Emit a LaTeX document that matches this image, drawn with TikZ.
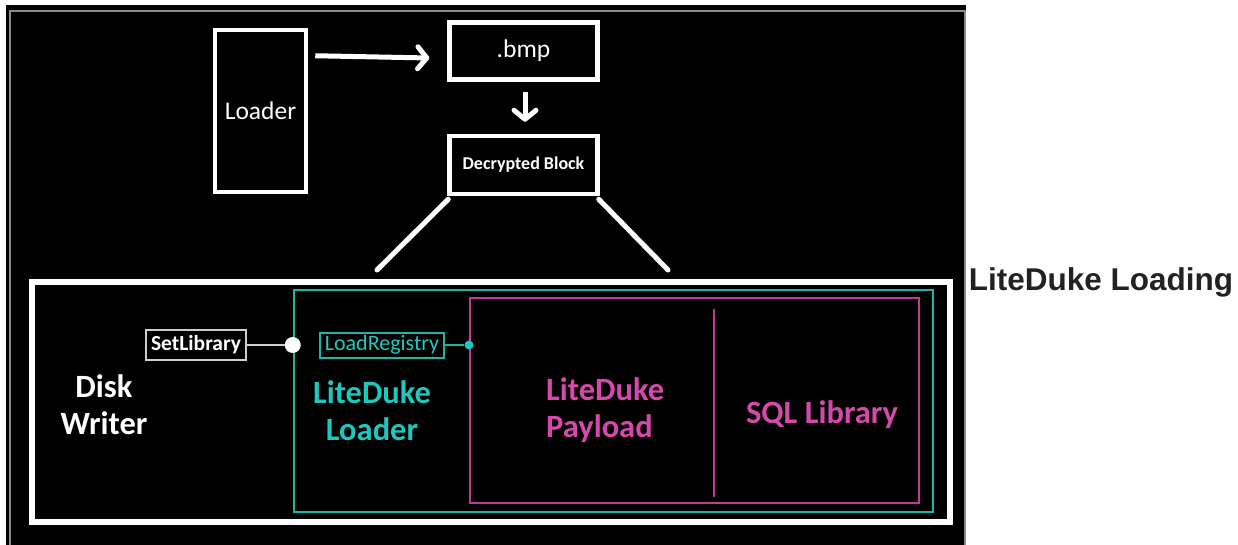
\documentclass[tikz,border=0pt]{standalone}
\usepackage{fontspec}
\setmainfont{Carlito}
\newfontfamily\headfont{Liberation Sans}
\usetikzlibrary{positioning,calc}
\usetikzlibrary{arrows.meta}
\definecolor{ldteal}{RGB}{24,182,172}
\definecolor{ldtealtext}{RGB}{30,200,190}
\definecolor{ldpink}{RGB}{196,58,150}
\definecolor{ldpinktext}{RGB}{214,72,172}
\definecolor{ldgray}{RGB}{140,140,140}
\definecolor{ldlight}{RGB}{205,205,205}

\begin{document}
\begin{tikzpicture}[x=1pt, y=-1pt,
  wbox/.style={draw=white, line width=4.5, inner sep=0, text=white, font=\fontsize{25.5}{30}\selectfont},
  bigtext/.style={inner sep=0, font=\bfseries\fontsize{32.5}{37}\selectfont},
  warrow/.style={draw=white, line width=5, -{Straight Barb[length=9pt,width=22pt,line cap=round,line join=round]}},
  wline/.style={draw=white, line width=5, line cap=round}]
\useasboundingbox (0,0) rectangle (1238,545);
\fill [black] (6,5) rectangle (966,545);
\draw [ldgray, line width=2] (9.5,11) rectangle (964.5,548);
% top row
\node [wbox, minimum width=91, minimum height=162] (loader) at (260.5,111) {Loader};
\node [wbox, minimum width=148, minimum height=57] (bmp) at (523.5,51) {.bmp};
\node [wbox, minimum width=148, minimum height=58, font=\bfseries\fontsize{18}{22}\selectfont] (dec) at (523.5,165) {Decrypted Block};
\draw [warrow] ($(loader.north east)+(7,28)$) -- ($(bmp.west)+(-18,7)$);
\draw [warrow] ($(bmp.south)+(1.5,10)$) -- ($(dec.north)+(1.5,-12)$);
\coordinate (lfoot) at (377,270);
\coordinate (rfoot) at (668,270);
\draw [wline] ($(dec.south west)+(1,3)$) -- (lfoot);
\draw [wline] ($(dec.south east)+(-1,3)$) -- (rfoot);
% nested boxes
\node [draw=white, line width=5.5, minimum width=918, minimum height=240, inner sep=0] (writer) at (491,402) {};
\node [draw=ldteal, line width=2.5, minimum width=639, minimum height=222, inner sep=0] (ldloader) at (613.5,401) {};
\node [draw=ldpink, line width=2, minimum width=449, minimum height=205, inner sep=0] (ldpayload) at (694.5,400.5) {};
\draw [ldpink, line width=2] (714,309) -- (714,497);
\node [bigtext, text=white, align=center] (disk) at (104,405) {Disk\\Writer};
\node [bigtext, text=ldtealtext, align=center] (ldltext) at (372,411) {LiteDuke\\Loader};
\node [bigtext, text=ldpinktext, align=left, anchor=west] (ldptext) at (546,410) {LiteDuke\\Payload};
\node [bigtext, text=ldpinktext, anchor=base] (sql) at (822,423) {SQL Library};
% exports
\node [draw=ldlight, line width=2, minimum width=100, minimum height=30, inner sep=0, text=white, font=\bfseries\fontsize{21.5}{24}\selectfont] (setlib) at (196,345) {SetLibrary};
\node [circle, fill=white, minimum size=16, inner sep=0] (sdot) at (ldloader.west |- setlib.east) {};
\draw [ldlight, line width=2] (setlib.east) -- (sdot);
\node [draw=ldteal, line width=2, minimum width=124, minimum height=25, inner sep=0, text=ldtealtext, font=\fontsize{22}{24}\selectfont] (loadreg) at (382,345) {LoadRegistry};
\node [circle, fill=ldtealtext, minimum size=9, inner sep=0] (rdot) at (ldpayload.west |- loadreg.east) {};
\draw [ldteal, line width=2] (loadreg.east) -- (rdot);
% caption
\node [anchor=base, inner sep=0, text={rgb,255:red,34;green,34;blue,34}, font=\headfont\bfseries\fontsize{31.5}{36}\selectfont] (title) at (1101,290) {LiteDuke Loading};
\end{tikzpicture}
\end{document}
